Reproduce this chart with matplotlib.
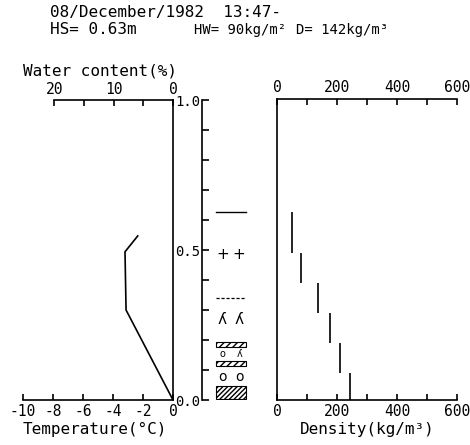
import matplotlib
matplotlib.use("Agg")
import matplotlib.pyplot as plt
from matplotlib.patches import Rectangle

# ---- data ----
temp_depth = [0.547, 0.494, 0.300, 0.0]
temp_vals = [-2.35, -3.2, -3.13, 0.0]

dens_vals = [49, 79, 137, 177, 210, 244]
dens_top = [0.623, 0.49, 0.39, 0.29, 0.19, 0.09]
dens_bot = [0.49, 0.39, 0.29, 0.19, 0.09, 0.0]

surface_depth = 0.628
dash_depth = 0.341
sym_depths = [0.486, 0.27, 0.152, 0.078]
sym_left = ["+", "ʎ", "o", "o"]
sym_right = ["+", "ʎ", "ʎ", "o"]
sym_size = [11, 11, 7, 10]
box_bot = [0.177, 0.114, 0.003]
box_top = [0.194, 0.130, 0.048]
box_hatch = ["/////", "/////", "///////"]

temp_ticks = [-10, -8, -6, -4, -2, 0]
water_ticks = [20, 15, 10, 5, 0]
water_labels = ["20", "", "10", "", "0"]
depth_ticks = [i / 10 for i in range(11)]
depth_labels = ["0.0", "", "", "", "", "0.5", "", "", "", "", "1.0"]
dens_ticks = [0, 100, 200, 300, 400, 500, 600]
dens_labels = ["0", "", "200", "", "400", "", "600"]

title1 = "08/December/1982  13:47-"
hs_text = "HS= 0.63m"
hw_text = "HW= 90kg/m²"
d_text = "D= 142kg/m³"

FONT = "DejaVu Sans Mono"
plt.rcParams["font.family"] = [FONT, "DejaVu Sans"]

W, H = 470, 445
fig = plt.figure(figsize=(W / 100, H / 100), dpi=100)


def ax_at(x0, x1, ytop, ybot):
    return fig.add_axes([x0 / W, (H - ybot) / H, (x1 - x0) / W, (ybot - ytop) / H])


LW = 1.2
TS = 10.5

# ---- left panel: temperature / water content ----
axL = ax_at(23, 173, 100, 400)
axL.set_xlim(-10, 0)
axL.set_ylim(0, 1)
axL.plot(temp_vals, temp_depth, color="black", lw=LW)
for s in ["left", "top"]:
    axL.spines[s].set_visible(False)
axL.spines["bottom"].set_bounds(-10, 0)
for s in ["bottom", "right"]:
    axL.spines[s].set_linewidth(LW)
axL.set_yticks([])
axL.set_xticks(temp_ticks)
axL.set_xticklabels([str(t) for t in temp_ticks])
axL.tick_params(axis="x", direction="in", length=4, width=LW, labelsize=TS, pad=3)
axL.set_xlabel("Temperature(°C)", fontsize=11.5, labelpad=2, loc="left")

axW = axL.twiny()
axW.set_xlim(25.3, 0)
for s in ["left", "bottom", "right"]:
    axW.spines[s].set_visible(False)
axW.spines["top"].set_bounds(20, 0)
axW.spines["top"].set_linewidth(LW)
axW.set_xticks(water_ticks)
axW.set_xticklabels(water_labels)
axW.tick_params(axis="x", direction="in", length=4, width=LW, labelsize=TS, pad=2)

fig.text(23 / W, 1 - 71 / H, "Water content(%)", fontsize=11.5, va="center", ha="left")

# ---- middle: depth axis and snow type symbols ----
axM = ax_at(202, 262, 100, 400)
axM.set_xlim(0, 1)
axM.set_ylim(0, 1)
for s in ["top", "bottom", "right"]:
    axM.spines[s].set_visible(False)
axM.spines["left"].set_linewidth(LW)
axM.set_xticks([])
axM.set_yticks(depth_ticks)
axM.set_yticklabels(depth_labels)
axM.tick_params(axis="y", direction="in", length=5, width=LW, labelsize=10, pad=1)

axM.plot([0.23, 0.73], [surface_depth, surface_depth], color="black", lw=1.0)
axM.plot([0.23, 0.73], [dash_depth, dash_depth], color="black", lw=0.9,
         ls=(0, (2.5, 1.5)))
for d, sl, sr, sz in zip(sym_depths, sym_left, sym_right, sym_size):
    axM.text(0.34, d, sl, fontsize=sz, ha="center", va="center",
             family=["DejaVu Sans"])
    axM.text(0.62, d, sr, fontsize=sz, ha="center", va="center",
             family=["DejaVu Sans"])
for b, t, h in zip(box_bot, box_top, box_hatch):
    axM.add_patch(Rectangle((0.23, b), 0.5, t - b, facecolor="white",
                            edgecolor="black", hatch=h, lw=0.8))

# ---- right panel: density ----
axR = ax_at(277, 457, 99, 400)
axR.set_xlim(0, 600)
axR.set_ylim(0, 1)
axR.vlines(dens_vals, dens_bot, dens_top, color="black", lw=LW)
axR.spines["right"].set_visible(False)
for s in ["left", "top", "bottom"]:
    axR.spines[s].set_linewidth(LW)
axR.set_yticks([])
axR.set_xticks(dens_ticks)
axR.set_xticklabels(dens_labels)
axR.tick_params(axis="x", direction="in", length=4, width=LW, labelsize=TS,
                top=True, labeltop=True, pad=3)
axR.set_xlabel("Density(kg/m³)", fontsize=11.5, labelpad=2)

# ---- header ----
fig.text(50 / W, 1 - 13 / H, title1, fontsize=11.5, va="center", ha="left")
fig.text(50 / W, 1 - 30 / H, hs_text, fontsize=11.5, va="center", ha="left")
fig.text(194 / W, 1 - 30 / H, hw_text, fontsize=10, va="center", ha="left")
fig.text(296 / W, 1 - 30 / H, d_text, fontsize=10, va="center", ha="left")

fig.savefig("out.png", dpi=100, facecolor="white")
